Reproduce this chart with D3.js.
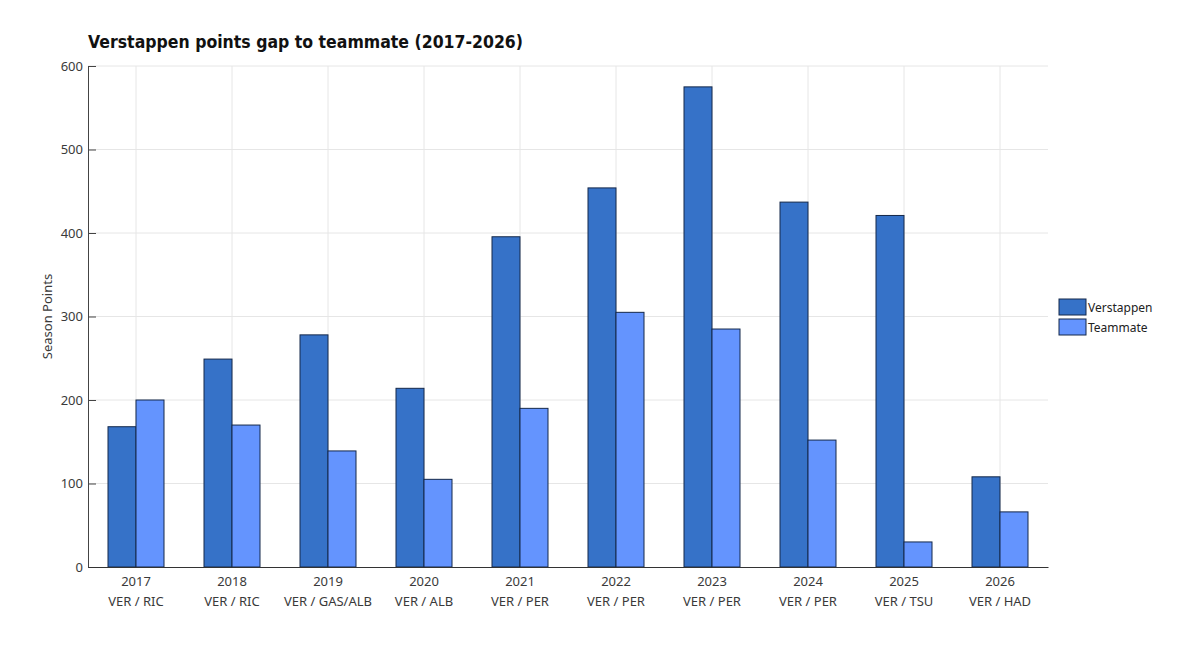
<!DOCTYPE html>
<html>
<head>
<meta charset="utf-8">
<script src="https://cdn.jsdelivr.net/npm/d3@7"></script>
<style>
  body { margin: 0; background: #fff; }
  text { font-family: "Noto Sans", sans-serif; }
</style>
</head>
<body>
<svg id="chart" width="1193" height="671"></svg>
<script>
// season data
var seasons = [ "2017", "2018", "2019", "2020", "2021", "2022", "2023", "2024", "2025", "2026" ];
var pairings = [ "VER / RIC", "VER / RIC", "VER / GAS/ALB", "VER / ALB", "VER / PER", "VER / PER", "VER / PER", "VER / PER", "VER / TSU", "VER / HAD" ];
var verstappen_pts = [ 168, 249, 278, 214, 395.5, 454, 575, 437, 421, 108 ];
var teammate_pts = [ 200, 170, 139, 105, 190, 305, 285, 152, 30, 66 ];
var y_ticks = [ 0, 100, 200, 300, 400, 500, 600 ];
var series_names = [ "Verstappen", "Teammate" ];
var series_colors = [ "#3672c8", "#6494fe" ];

var MARGIN = { left: 88, top: 66, right: 145, bottom: 104 };
var width = 960, height = 501;

var svg = d3.select( "#chart" );

svg.append( "text" )
  .attr( "x", 88 )
  .attr( "y", 48 )
  .attr( "textLength", 435 )
  .attr( "lengthAdjust", "spacingAndGlyphs" )
  .style( "font-family", "'DejaVu Sans', sans-serif" )
  .style( "font-weight", "bold" )
  .style( "font-size", "17px" )
  .style( "fill", "#111" )
  .text( "Verstappen points gap to teammate (2017-2026)" );

var g = svg.append( "g" ).attr( "transform", "translate(" + MARGIN.left + "," + MARGIN.top + ")" );

var x = d3.scaleBand().domain( seasons ).range( [ 0, width ] ).paddingInner( 40 / 96 ).paddingOuter( 20 / 96 );
var x_sub = d3.scaleBand().domain( series_names ).range( [ 0, x.bandwidth() ] );
var y = d3.scaleLinear().domain( [ 0, 600 ] ).range( [ height, 0 ] );

// grid
g.selectAll( ".hgrid" ).data( y_ticks.slice( 1 ) ).enter()
  .append( "line" )
  .attr( "x1", 0 ).attr( "x2", width )
  .attr( "y1", function( d ){ return y( d ); } )
  .attr( "y2", function( d ){ return y( d ); } )
  .attr( "stroke", "#e6e6e6" );

g.selectAll( ".vgrid" ).data( seasons ).enter()
  .append( "line" )
  .attr( "x1", function( d ){ return x( d ) + x.bandwidth() / 2; } )
  .attr( "x2", function( d ){ return x( d ) + x.bandwidth() / 2; } )
  .attr( "y1", 0 ).attr( "y2", height )
  .attr( "stroke", "#e6e6e6" );

// bars
var series = [ verstappen_pts, teammate_pts ];
series.forEach( function( vals, si ){
  g.selectAll( ".bar-" + si ).data( vals ).enter()
    .append( "rect" )
    .attr( "x", function( d, i ){ return x( seasons[ i ] ) + x_sub( series_names[ si ] ); } )
    .attr( "y", function( d ){ return y( d ); } )
    .attr( "width", x_sub.bandwidth() )
    .attr( "height", function( d ){ return height - y( d ); } )
    .attr( "fill", series_colors[ si ] )
    .attr( "stroke", "#14284a" )
    .attr( "stroke-width", 1 );
} );

// y axis
var y_axis = g.append( "g" )
  .call( d3.axisLeft( y ).tickValues( y_ticks ).tickSize( -8 ).tickPadding( 5 ) );
y_axis.select( ".domain" ).attr( "stroke", "#444" );
y_axis.selectAll( ".tick line" ).attr( "stroke", "#444" );
y_axis.selectAll( "text" ).style( "font-size", "13px" ).style( "fill", "#3a3a3a" );

// x axis
var x_axis = g.append( "g" )
  .attr( "transform", "translate(0," + height + ")" )
  .call( d3.axisBottom( x ).tickSize( 0 ).tickPadding( 8 ).tickSizeOuter( 0 ) );
x_axis.select( ".domain" ).attr( "stroke", "#333" );
x_axis.selectAll( ".tick text" ).remove();
x_axis.selectAll( ".tick" ).append( "text" )
  .attr( "y", 19 )
  .attr( "text-anchor", "middle" )
  .style( "font-size", "13px" )
  .style( "fill", "#3a3a3a" )
  .text( function( d ){ return d; } );
x_axis.selectAll( ".tick" ).append( "text" )
  .attr( "y", 39 )
  .attr( "text-anchor", "middle" )
  .style( "font-size", "13px" )
  .style( "fill", "#3a3a3a" )
  .text( function( d, i ){ return pairings[ i ]; } );

// y label
svg.append( "text" )
  .attr( "transform", "translate(52," + ( MARGIN.top + height / 2 ) + ") rotate(-90)" )
  .attr( "text-anchor", "middle" )
  .style( "font-size", "13px" )
  .style( "fill", "#3a3a3a" )
  .text( "Season Points" );

// legend
var legend = svg.append( "g" ).attr( "transform", "translate(1059,299)" );
series_names.forEach( function( name, i ){
  legend.append( "rect" )
    .attr( "x", 0 ).attr( "y", i * 20 )
    .attr( "width", 27 ).attr( "height", 16 )
    .attr( "fill", series_colors[ i ] )
    .attr( "stroke", "#14284a" );
  legend.append( "text" )
    .attr( "x", 29 ).attr( "y", i * 20 + 13 )
    .style( "font-size", "12px" )
    .style( "fill", "#222" )
    .text( name );
} );
</script>
</body>
</html>
